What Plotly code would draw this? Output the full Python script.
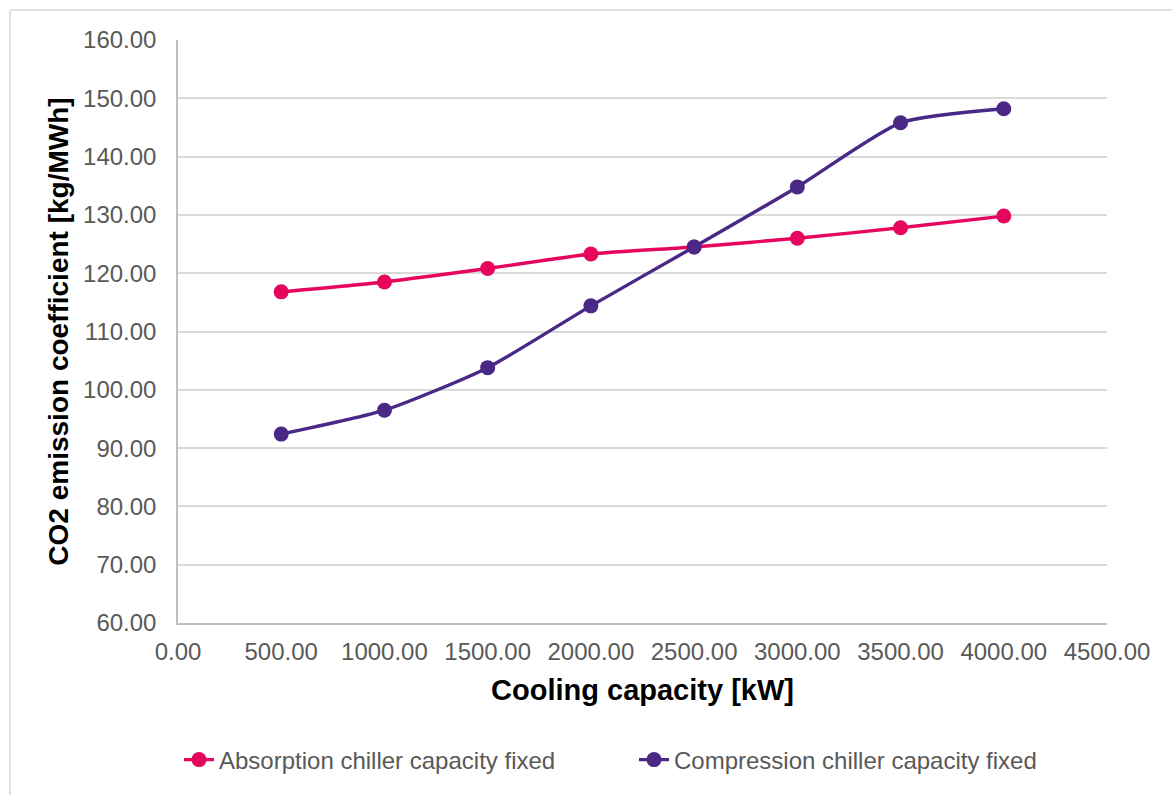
import plotly.graph_objects as go

capacity_kw = [500, 1000, 1500, 2000, 2500, 3000, 3500, 4000]
absorption_fixed = [116.8, 118.5, 120.8, 123.3, 124.5, 126.0, 127.8, 129.8]
compression_fixed = [92.4, 96.5, 103.8, 114.4, 124.5, 134.8, 145.8, 148.2]

series_names = ["Absorption chiller capacity fixed", "Compression chiller capacity fixed"]
series_colors = ["#E6065E", "#4A2886"]

W, H = 1172, 795
ML, MR, MT, MB = 178, 65, 40, 172
PW, PH = W - ML - MR, H - MT - MB

fig = go.Figure()
for name, ys, col in zip(series_names, [absorption_fixed, compression_fixed], series_colors):
    fig.add_trace(go.Scatter(
        x=capacity_kw, y=ys, name=name, mode="lines+markers",
        line=dict(color=col, width=3.4, shape="spline", smoothing=0.6),
        marker=dict(color=col, size=15),
    ))

FONT = "Liberation Sans, Arial"
tick_font = dict(family=FONT, size=24, color="#595959")

fig.update_xaxes(
    range=[0, 4500], tickvals=list(range(0, 4501, 500)),
    tickformat=".2f", tickfont=tick_font, ticklabelstandoff=6,
    showgrid=False, showline=True, linecolor="#BFBFBF", linewidth=1.5,
    zeroline=False, ticks="",
    title=dict(text="<b>Cooling capacity [kW]</b>",
               font=dict(family=FONT, size=29, color="#000000"), standoff=16),
)
fig.update_yaxes(
    range=[60, 160], tickvals=list(range(60, 161, 10)),
    tickformat=".2f", tickfont=tick_font, ticklabelstandoff=15,
    showgrid=True, gridcolor="#D9D9D9", gridwidth=1.5,
    showline=True, linecolor="#BFBFBF", linewidth=1.5,
    zeroline=False, ticks="",
    title=dict(text="<b>CO2 emission coefficient [kg/MWh]</b>",
               font=dict(family=FONT, size=28, color="#000000"), standoff=6),
)

# outer chart frame (left and top edges visible)
fx0 = (10 - ML) / PW
fy1 = (H - MB - 10) / PH
fig.add_shape(type="line", xref="paper", yref="paper", x0=fx0, x1=fx0, y0=fy1, y1=-0.4,
              line=dict(color="#D9D9D9", width=1.5))
fig.add_shape(type="line", xref="paper", yref="paper", x0=fx0, x1=1.2, y0=fy1, y1=fy1,
              line=dict(color="#D9D9D9", width=1.5))

fig.update_layout(
    width=W, height=H,
    margin=dict(l=ML, r=MR, t=MT, b=MB),
    paper_bgcolor="white", plot_bgcolor="white",
    showlegend=True,
    legend=dict(orientation="h", x=(179 - ML) / PW, xanchor="left",
                y=(H - MB - 760) / PH, yanchor="middle",
                font=dict(family=FONT, size=24, color="#595959"),
                entrywidth=410, entrywidthmode="pixels", tracegroupgap=0),
)

fig.write_html("out.html")
